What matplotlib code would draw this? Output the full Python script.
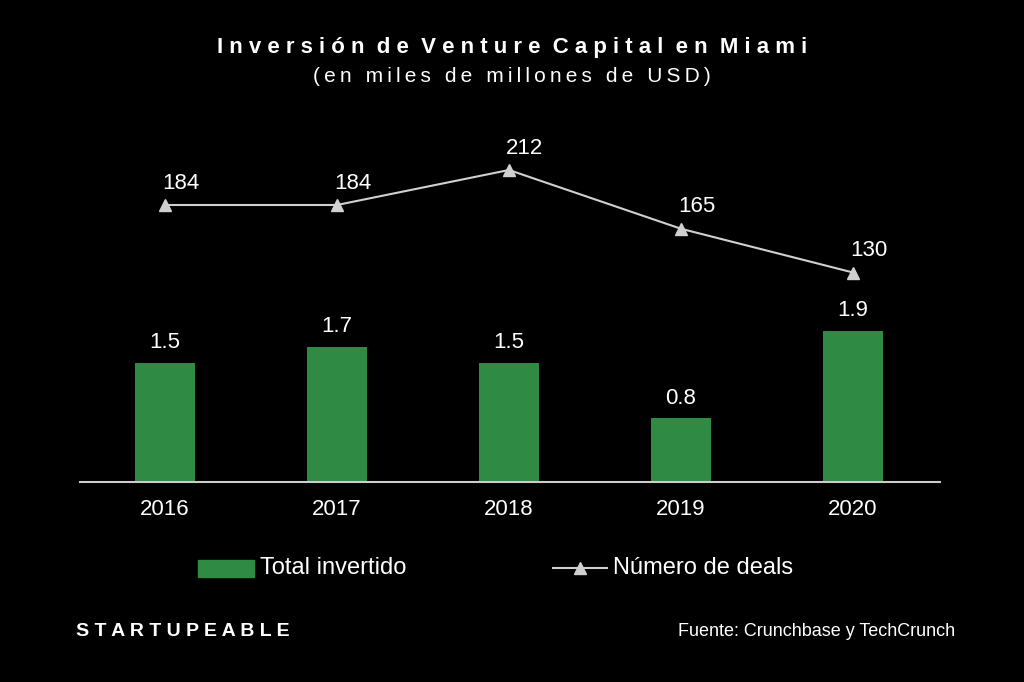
import matplotlib.pyplot as plt

plt.rcParams["font.family"] = ["Liberation Sans", "DejaVu Sans"]

years = ["2016", "2017", "2018", "2019", "2020"]
invested = [1.5, 1.7, 1.5, 0.8, 1.9]
deals = [184, 184, 212, 165, 130]

GREEN = "#2f8a43"
GRAY = "#d0d0d0"

fig = plt.figure(figsize=(10.24, 6.82), dpi=100, facecolor="black")
ax = fig.add_axes([80 / 1024, 1 - 482 / 682, 860 / 1024, 352 / 682])
ax.set_facecolor("black")
x = list(range(len(years)))
ax.bar(x, invested, width=0.35, color=GREEN)
for xi, v in zip(x, invested):
    ax.text(xi, v + 0.12, f"{v}", ha="center", va="bottom", color="white", fontsize=16)
ax.set_xlim(-0.494, 4.506)
ax.set_ylim(0, 4.43)
ax.set_yticks([])
for s in ["top", "right", "left"]:
    ax.spines[s].set_visible(False)
ax.spines["bottom"].set_color("#cccccc")
ax.spines["bottom"].set_linewidth(1.5)
ax.set_xticks(x)
ax.set_xticklabels(years, color="white", fontsize=16)
ax.tick_params(axis="x", length=0, pad=12)

ax2 = ax.twinx()
ax2.plot(x, deals, color=GRAY, marker="^", markersize=9, linewidth=1.5)
for xi, v in zip(x, deals):
    ax2.text(xi + 0.09, v + 9, str(v), ha="center", va="bottom", color="white", fontsize=16)
ax2.set_ylim(-37.6, 244)
ax2.set_yticks([])
for s in ax2.spines.values():
    s.set_visible(False)

# title with wide letter spacing
fig.text(0.5, 1 - 47 / 682, " ".join("Inversión de Venture Capital en Miami").replace("   ", "  "),
         ha="center", va="center", color="white", fontsize=16, fontweight="bold")
fig.text(0.5, 1 - 77 / 682, "\u2009".join("(en miles de millones de USD)"), ha="center", va="center",
         color="white", fontsize=15)

# legend
fig.patches.append(plt.Rectangle((198 / 1024, 1 - 577 / 682), 56 / 1024, 17 / 682,
                                 transform=fig.transFigure, color=GREEN))
fig.text(260 / 1024, 1 - 568 / 682, "Total invertido", color="white", fontsize=17, va="center")
fig.lines.append(plt.Line2D([553 / 1024, 607 / 1024], [1 - 568 / 682] * 2, transform=fig.transFigure,
                            color=GRAY, linewidth=1.5))
fig.lines.append(plt.Line2D([580 / 1024], [1 - 568 / 682], transform=fig.transFigure,
                            color=GRAY, marker="^", markersize=9))
fig.text(613 / 1024, 1 - 568 / 682, "Número de deals", color="white", fontsize=17, va="center")

fig.text(76 / 1024, 1 - 631 / 682, "S T A R T U P E A B L E", color="white", fontsize=14,
         fontweight="bold", va="center")
fig.text(955 / 1024, 1 - 631 / 682, "Fuente: Crunchbase y TechCrunch", color="white", fontsize=13,
         ha="right", va="center")

fig.savefig("out.png", dpi=100, facecolor="black")
